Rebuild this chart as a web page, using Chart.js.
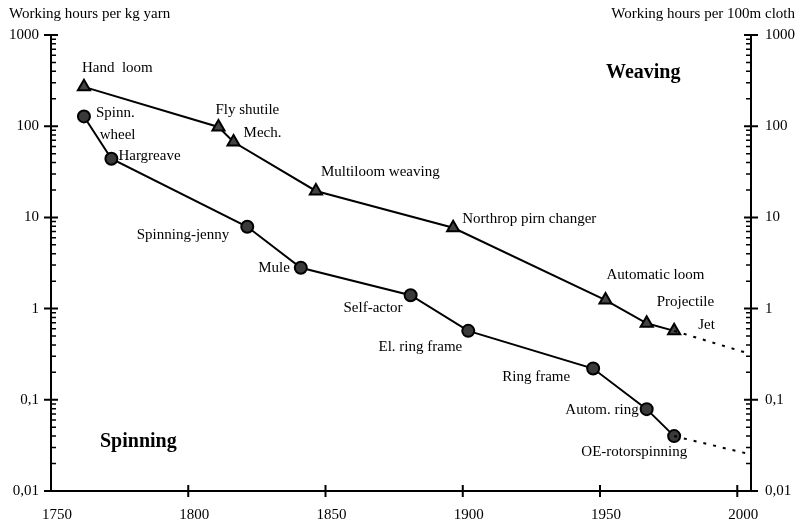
<!DOCTYPE html>
<html>
<head>
<meta charset="utf-8">
<script src="https://cdn.jsdelivr.net/npm/chart.js@4"></script>
<style>
  html, body { margin: 0; padding: 0; background: #fff; }
  #wrap { width: 798px; height: 532px; }
</style>
</head>
<body>
<div id="wrap"><canvas id="myChart" width="798" height="532"></canvas></div>
<script>
// Spinning: working hours per kg yarn
const spinYears = [1762, 1772, 1821.5, 1841, 1881, 1902, 1947.5, 1967, 1977];
const spinHours = [128, 44, 7.9, 2.8, 1.4, 0.57, 0.22, 0.079, 0.04];
const spinNames = [["Spinn.", " wheel"], "Hargreave", "Spinning-jenny", "Mule", "Self-actor",
  "El. ring frame", "Ring frame", "Autom. ring", "OE-rotorspinning"];
const spinTrendYears = [1977, 2003];
const spinTrendHours = [0.04, 0.026];

// Weaving: working hours per 100m cloth
const weaveYears = [1762, 1811, 1816.5, 1846.5, 1896.5, 1952, 1967, 1977];
const weaveHours = [270, 98, 67, 19.5, 7.7, 1.24, 0.69, 0.57];
const weaveNames = ["Hand  loom", "Fly shutile", "Mech.", "Multiloom weaving",
  "Northrop pirn changer", "Automatic loom", "Projectile", "Jet"];
const weaveTrendYears = [1977, 2003];
const weaveTrendHours = [0.57, 0.33];

const yearTicks = [1750, 1800, 1850, 1900, 1950, 2000];
const hourTicks = [0.01, 0.1, 1, 10, 100, 1000];
const hourTickLabels = ["0,01", "0,1", "1", "10", "100", "1000"];

// label placement (pixel offsets from each point, text alignment)
const spinLabelPos = [
  [12, -3, "left"], [7, -3, "left"], [-18, 8, "right"], [-11, 0, "right"], [-8, 13, "right"],
  [-6, 16, "right"], [-23, 8, "right"], [-8, 1, "right"], [13, 16, "right"]
];
const weaveLabelPos = [
  [-2, -19, "left"], [-3, -17, "left"], [10, -9, "left"], [5, -19, "left"],
  [9, -9, "left"], [1, -25, "left"], [10, -21, "left"], [24, -6, "left"]
];

const serif = "'Liberation Serif', 'DejaVu Serif', serif";
const ink = "#000";

function toXY(xs, ys) {
  return xs.map((x, i) => ({ x: x, y: ys[i] }));
}

// Draw axes, ticks, labels and point annotations
const drawingPlugin = {
  id: "paperAxes",
  afterDraw(chart) {
    const ctx = chart.ctx;
    const xs = chart.scales.x;
    const ys = chart.scales.y;
    const area = chart.chartArea;
    ctx.save();
    ctx.strokeStyle = ink;
    ctx.fillStyle = ink;
    ctx.lineWidth = 2;

    // axis lines
    ctx.beginPath();
    ctx.moveTo(area.left, area.top);
    ctx.lineTo(area.left, area.bottom);
    ctx.lineTo(area.right, area.bottom);
    ctx.lineTo(area.right, area.top);
    ctx.stroke();

    // log ticks on both y axes
    for (let d = 0; d < hourTicks.length; d++) {
      const base = hourTicks[d];
      const py = ys.getPixelForValue(base);
      ctx.lineWidth = 2;
      ctx.beginPath();
      ctx.moveTo(area.left - 7, py); ctx.lineTo(area.left + 7, py);
      ctx.moveTo(area.right - 7, py); ctx.lineTo(area.right + 7, py);
      ctx.stroke();
      if (d < hourTicks.length - 1) {
        ctx.lineWidth = 1.5;
        ctx.beginPath();
        for (let m = 2; m <= 9; m++) {
          const my = ys.getPixelForValue(base * m);
          ctx.moveTo(area.left, my); ctx.lineTo(area.left + 5, my);
          ctx.moveTo(area.right, my); ctx.lineTo(area.right - 5, my);
        }
        ctx.stroke();
      }
      ctx.font = "15px " + serif;
      ctx.textBaseline = "middle";
      ctx.textAlign = "right";
      ctx.fillText(hourTickLabels[d], area.left - 12, py);
      ctx.textAlign = "left";
      ctx.fillText(hourTickLabels[d], area.right + 14, py);
    }

    // x ticks
    ctx.lineWidth = 2;
    yearTicks.forEach((yr) => {
      const px = xs.getPixelForValue(yr);
      if (yr > 1750) {
        ctx.beginPath();
        ctx.moveTo(px, area.bottom - 6); ctx.lineTo(px, area.bottom + 6);
        ctx.stroke();
      }
      ctx.font = "15px " + serif;
      ctx.textAlign = "center";
      ctx.textBaseline = "middle";
      ctx.fillText(String(yr), px + 6, area.bottom + 24);
    });

    // axis titles
    ctx.font = "15px " + serif;
    ctx.textBaseline = "middle";
    ctx.textAlign = "left";
    ctx.fillText("Working hours per kg yarn", 9, 14);
    ctx.textAlign = "right";
    ctx.fillText("Working hours per 100m cloth", 795, 14);

    // section titles
    ctx.font = "bold 20px " + serif;
    ctx.textAlign = "left";
    ctx.fillText("Weaving", 606, 73);
    ctx.fillText("Spinning", 100, 442);

    // point annotations
    ctx.font = "15px " + serif;
    function annotate(years, hours, names, pos) {
      names.forEach((name, i) => {
        const px = xs.getPixelForValue(years[i]);
        const py = ys.getPixelForValue(hours[i]);
        const p = pos[i];
        ctx.textAlign = p[2];
        const lines = Array.isArray(name) ? name : [name];
        lines.forEach((line, k) => {
          ctx.fillText(line, px + p[0], py + p[1] + k * 22);
        });
      });
    }
    annotate(spinYears, spinHours, spinNames, spinLabelPos);
    annotate(weaveYears, weaveHours, weaveNames, weaveLabelPos);
    ctx.restore();
  }
};

const ctx = document.getElementById("myChart").getContext("2d");

const data = {
  datasets: [
    {
      label: "Spinning trend",
      data: toXY(spinTrendYears, spinTrendHours),
      borderColor: ink,
      borderWidth: 2,
      borderDash: [3, 7],
      pointRadius: 0,
      showLine: true,
    },
    {
      label: "Weaving trend",
      data: toXY(weaveTrendYears, weaveTrendHours),
      borderColor: ink,
      borderWidth: 2,
      borderDash: [3, 7],
      pointRadius: 0,
      showLine: true,
    },
    {
      label: "Spinning",
      data: toXY(spinYears, spinHours),
      borderColor: ink,
      borderWidth: 2,
      showLine: true,
      pointStyle: "circle",
      pointRadius: 6,
      pointBackgroundColor: "#3a3a3a",
      pointBorderColor: "#000",
      pointBorderWidth: 2,
    },
    {
      label: "Weaving",
      data: toXY(weaveYears, weaveHours),
      borderColor: ink,
      borderWidth: 2,
      showLine: true,
      pointStyle: "triangle",
      pointRadius: 7,
      pointBackgroundColor: "#444",
      pointBorderColor: "#000",
      pointBorderWidth: 2,
    },
  ],
};

const config = {
  type: "scatter",
  data: data,
  options: {
    responsive: false,
    animation: false,
    layout: { padding: { left: 51, right: 47, top: 35, bottom: 41 } },
    plugins: { legend: { display: false }, tooltip: { enabled: false } },
    scales: {
      x: { type: "linear", min: 1750, max: 2005, display: false },
      y: { type: "logarithmic", min: 0.01, max: 1000, display: false },
    },
  },
  plugins: [drawingPlugin],
};

const myChart = new Chart(ctx, config);
</script>
</body>
</html>
